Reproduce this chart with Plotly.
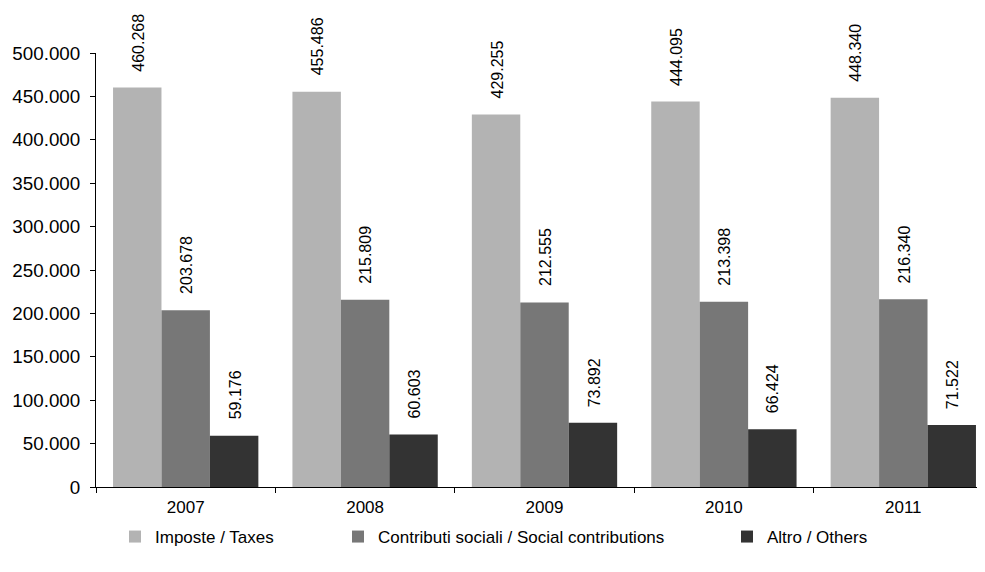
import plotly.graph_objects as go

years = ["2007", "2008", "2009", "2010", "2011"]
taxes = [460268, 455486, 429255, 444095, 448340]
social = [203678, 215809, 212555, 213398, 216340]
others = [59176, 60603, 73892, 66424, 71522]
series_names = ["Imposte / Taxes", "Contributi sociali / Social contributions", "Altro / Others"]
colors = ["#b3b3b3", "#777777", "#333333"]
y_ticks = [0, 50000, 100000, 150000, 200000, 250000, 300000, 350000, 400000, 450000, 500000]

W, H = 985, 572
OFF = 8  # page body margin offset
ml, mt, mb = 96 - OFF, 53 - OFF, H - (487 - OFF)
cat_w = (W - ml) / 5.0
bargap = 0.19
bar_w = cat_w * (1 - bargap) / 3

FONT = "Liberation Sans, Arial, sans-serif"

fig = go.Figure()
all_series = [taxes, social, others]
legend_ids = ["legend", "legend2", "legend3"]
for i, (name, vals) in enumerate(zip(series_names, all_series)):
    fig.add_trace(go.Bar(
        x=years, y=vals, name=name,
        marker=dict(color=colors[i], line=dict(width=0)),
        legend=legend_ids[i],
    ))
    for j, v in enumerate(vals):
        fig.add_annotation(
            x=j, y=v, xref="x", yref="y",
            text=f"{v:,}".replace(",", "."),
            textangle=-90, showarrow=False,
            xanchor="center", yanchor="bottom",
            xshift=(i - 1) * bar_w + 1, yshift=14,
            font=dict(family=FONT, size=16, color="#000000"),
        )

legend_common = dict(
    orientation="h", xref="container", yref="container",
    yanchor="middle", xanchor="left", y=1 - (537 - OFF) / H,
    font=dict(family=FONT, size=17, color="#000000"),
    bgcolor="rgba(0,0,0,0)", itemwidth=30,
)
fig.update_layout(
    legend=dict(x=(115 - OFF) / W, **legend_common),
    legend2=dict(x=(338 - OFF) / W, **legend_common),
    legend3=dict(x=(727 - OFF) / W, **legend_common),
)

fig.update_layout(
    width=W, height=H,
    margin=dict(l=ml, r=0, t=mt, b=mb, pad=0, autoexpand=False),
    paper_bgcolor="white", plot_bgcolor="white",
    barmode="group", bargap=bargap, bargroupgap=0,
    separators=",.",
    font=dict(family=FONT, size=17, color="#000000"),
    showlegend=True,
    xaxis=dict(
        type="category", range=[-0.5, 4.5],
        showline=True, linecolor="#000000", linewidth=1,
        ticks="outside", tickson="boundaries", ticklen=5, tickcolor="#000000",
        showgrid=False, zeroline=False,
        tickfont=dict(family=FONT, size=17, color="#000000"),
        ticklabelstandoff=5,
    ),
    yaxis=dict(
        range=[0, 500000], tickvals=y_ticks, tickformat=",d",
        showline=True, linecolor="#000000", linewidth=1,
        ticks="outside", ticklen=5, tickcolor="#000000",
        showgrid=False, zeroline=False,
        tickfont=dict(family=FONT, size=18.8, color="#000000"),
        ticklabelstandoff=6,
    ),
)

fig.write_html("out.html")
